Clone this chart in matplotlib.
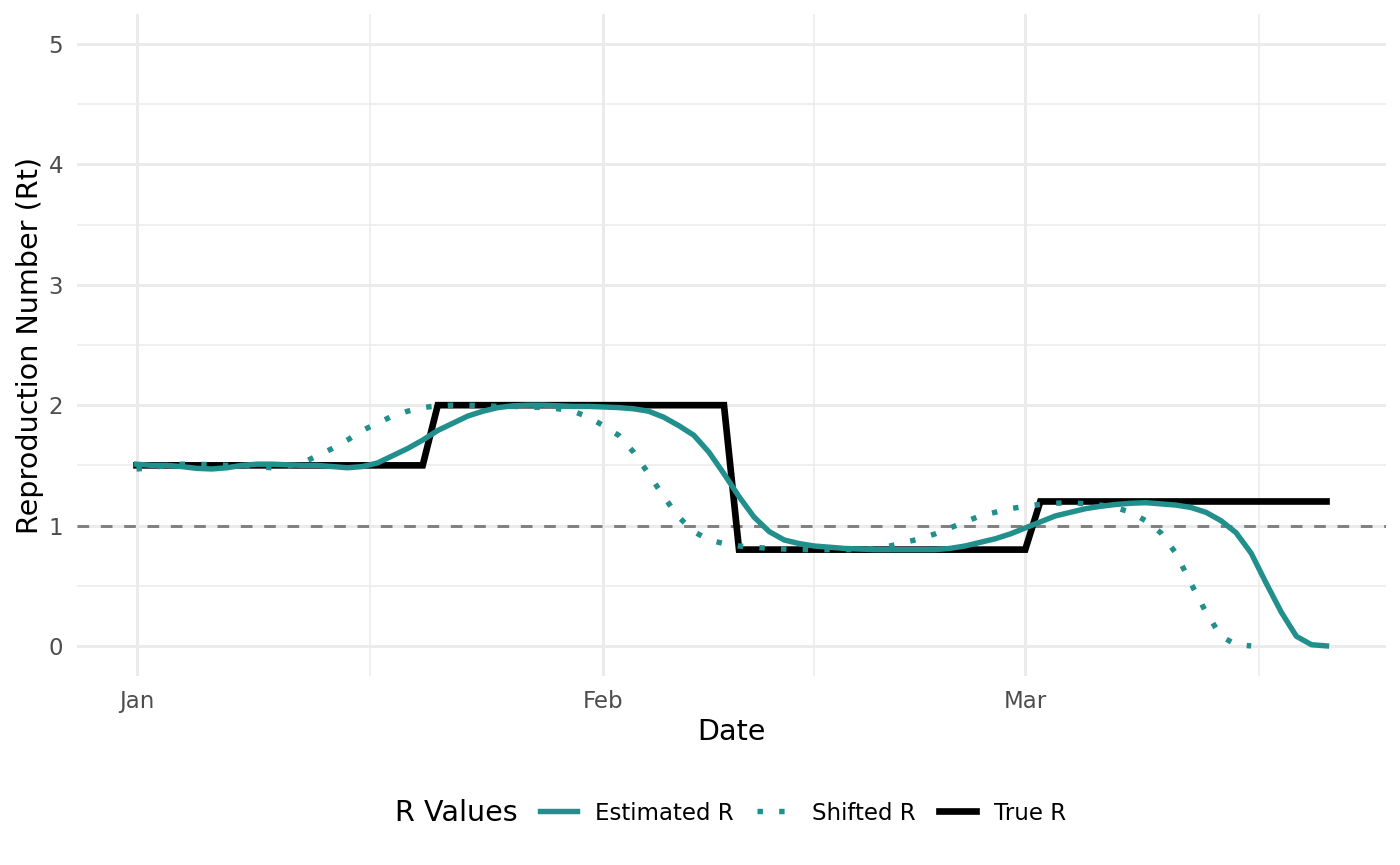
import pandas as pd
import matplotlib
matplotlib.use("Agg")
import matplotlib.pyplot as plt
import matplotlib.dates as mdates
from matplotlib.lines import Line2D
from matplotlib.ticker import FixedLocator

# data (daily values, starting 1 Jan)
start_date = "2023-01-01"

true_r = [
    1.5, 1.5, 1.5, 1.5, 1.5, 1.5, 1.5, 1.5, 1.5, 1.5,
    1.5, 1.5, 1.5, 1.5, 1.5, 1.5, 1.5, 1.5, 1.5, 1.5,
    2.0, 2.0, 2.0, 2.0, 2.0, 2.0, 2.0, 2.0, 2.0, 2.0,
    2.0, 2.0, 2.0, 2.0, 2.0, 2.0, 2.0, 2.0, 2.0, 2.0,
    0.8, 0.8, 0.8, 0.8, 0.8, 0.8, 0.8, 0.8, 0.8, 0.8,
    0.8, 0.8, 0.8, 0.8, 0.8, 0.8, 0.8, 0.8, 0.8, 0.8,
    1.2, 1.2, 1.2, 1.2, 1.2, 1.2, 1.2, 1.2, 1.2, 1.2,
    1.2, 1.2, 1.2, 1.2, 1.2, 1.2, 1.2, 1.2, 1.2, 1.2,
]

estimated_r = [
    1.51, 1.50, 1.50, 1.49, 1.475, 1.47, 1.48, 1.50, 1.51, 1.51,
    1.505, 1.50, 1.50, 1.49, 1.48, 1.49, 1.52, 1.58, 1.64, 1.71,
    1.79, 1.85, 1.91, 1.95, 1.98, 1.995, 2.00, 2.00, 1.995, 1.99,
    1.99, 1.985, 1.98, 1.97, 1.95, 1.90, 1.83, 1.75, 1.61, 1.43,
    1.24, 1.07, 0.95, 0.88, 0.85, 0.83, 0.82, 0.81, 0.805, 0.80,
    0.80, 0.80, 0.80, 0.80, 0.81, 0.83, 0.86, 0.89, 0.93, 0.98,
    1.03, 1.08, 1.11, 1.14, 1.16, 1.175, 1.185, 1.19, 1.18, 1.17,
    1.15, 1.11, 1.04, 0.94, 0.77, 0.52, 0.28, 0.08, 0.01, 0.00,
]

shifted_r = [
    1.47, 1.48, 1.50, 1.51, 1.51, 1.505, 1.50, 1.50, 1.49, 1.48,
    1.49, 1.52, 1.58, 1.64, 1.71, 1.79, 1.85, 1.91, 1.95, 1.98,
    1.995, 2.00, 2.00, 1.995, 1.99, 1.99, 1.985, 1.98, 1.97, 1.95,
    1.90, 1.83, 1.75, 1.61, 1.43, 1.24, 1.07, 0.95, 0.88, 0.85,
    0.83, 0.82, 0.81, 0.805, 0.80, 0.80, 0.80, 0.80, 0.80, 0.81,
    0.83, 0.86, 0.89, 0.93, 0.98, 1.03, 1.08, 1.11, 1.14, 1.16,
    1.175, 1.185, 1.19, 1.18, 1.17, 1.15, 1.11, 1.04, 0.94, 0.77,
    0.52, 0.28, 0.08, 0.01, 0.00,
]

month_breaks = ["2023-01-01", "2023-02-01", "2023-03-01", "2023-04-01"]
month_labels = ["Jan", "Feb", "Mar"]
y_ticks = [0, 1, 2, 3, 4, 5]

TEAL = "#21908C"
GRID = "#EBEBEB"

dates = pd.date_range(start_date, periods=len(true_r), freq="D")
dates_shifted = dates[:len(shifted_r)]

fig = plt.figure(figsize=(14, 8.65), dpi=100)
ax = fig.add_axes([77 / 1400, 1 - 676 / 865, (1386 - 77) / 1400, (676 - 14) / 865])

ax.axhline(1, color="#7F7F7F", lw=2.1, linestyle=(0, (4, 4)), zorder=2)
ax.plot(dates, true_r, color="black", lw=4.8, solid_joinstyle="miter", zorder=3)
ax.plot(dates, estimated_r, color=TEAL, lw=3.9, zorder=4)
ax.plot(dates_shifted, shifted_r, color=TEAL, lw=3.9, linestyle=(0, (1, 3)),
        dash_capstyle="butt", zorder=5)

# limits with ggplot-like 5% expansion
x0 = mdates.date2num(dates[0])
x1 = mdates.date2num(dates[-1])
pad = (x1 - x0) * 0.05
ax.set_xlim(x0 - pad, x1 + pad)
ax.set_ylim(-0.25, 5.25)

major_x = [mdates.date2num(pd.Timestamp(d)) for d in month_breaks]
minor_x = [(a + b) / 2 for a, b in zip(major_x[:-1], major_x[1:])]
ax.xaxis.set_major_locator(FixedLocator(major_x[:3]))
ax.xaxis.set_minor_locator(FixedLocator(minor_x))
ax.set_xticklabels(month_labels)
ax.set_yticks(y_ticks)
ax.set_yticks([0.5, 1.5, 2.5, 3.5, 4.5], minor=True)

ax.grid(which="major", color=GRID, lw=2.1)
ax.grid(which="minor", color=GRID, lw=1.1)
ax.set_axisbelow(True)
for s in ax.spines.values():
    s.set_visible(False)
ax.tick_params(which="both", length=0, pad=10, labelsize=16.5, labelcolor="#4D4D4D")

ax.set_xlabel("Date", fontsize=20.6, labelpad=4)
ax.set_ylabel("Reproduction Number (Rt)", fontsize=20.6, labelpad=3)

handles = [
    Line2D([], [], color=TEAL, lw=3.9),
    Line2D([], [], color=TEAL, lw=3.9, linestyle=(0, (1, 3)), dash_capstyle="butt"),
    Line2D([], [], color="black", lw=4.8),
]
fig.text(395 / 1400, 1 - 813 / 865, "R Values", fontsize=20.6, va="center", ha="left")
fig.legend(handles, ["Estimated R", "Shifted R", "True R"], loc="center left",
           bbox_to_anchor=(540 / 1400, 1 - 813 / 865), ncol=3, frameon=False,
           fontsize=16.5, handlelength=1.62, handletextpad=0.8, columnspacing=1.0,
           borderpad=0, borderaxespad=0)

fig.savefig("out.png", dpi=100)
